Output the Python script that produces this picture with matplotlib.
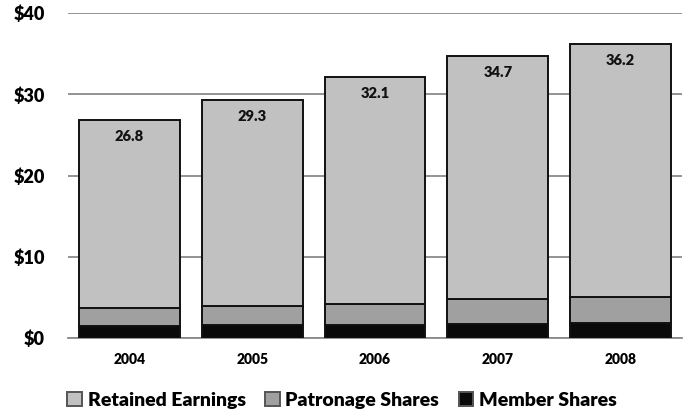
import numpy as np
import matplotlib.pyplot as plt

years = ['2004', '2005', '2006', '2007', '2008']
totals = [26.8, 29.3, 32.1, 34.7, 36.2]
member = [1.5, 1.6, 1.6, 1.7, 1.8]
patronage = [2.2, 2.3, 2.6, 3.1, 3.2]
retained = [t - m - p for t, m, p in zip(totals, member, patronage)]

plt.rcParams['font.family'] = ['Lato', 'DejaVu Sans']
plt.rcParams['font.weight'] = 'bold'

fig = plt.figure(figsize=(6.93, 4.15), dpi=100)
ax = fig.add_axes([68 / 693, 1 - 338 / 415, 614 / 693, 325 / 415])

x = np.arange(len(years))
w = 0.82
ax.bar(x, member, w, color='#0a0a0a', edgecolor='#111111', linewidth=1.4,
       label='Member Shares', zorder=3)
ax.bar(x, patronage, w, bottom=member, color='#a0a0a0', edgecolor='#111111',
       linewidth=1.4, label='Patronage Shares', zorder=3)
bottom2 = [m + p for m, p in zip(member, patronage)]
ax.bar(x, retained, w, bottom=bottom2, color='#c1c1c1', edgecolor='#111111',
       linewidth=1.4, label='Retained Earnings', zorder=3)

for xi, t in zip(x, totals):
    ax.text(xi, t - 1.2, f'{t:.1f}', ha='center', va='top', fontsize=10.5,
            fontweight='heavy', color='#111111', zorder=4)

ax.set_xlim(-0.5, 4.5)
ax.set_ylim(0, 40)
ax.set_yticks([0, 10, 20, 30, 40])
ax.set_yticklabels(['$0', '$10', '$20', '$30', '$40'], fontsize=13,
                   fontweight='heavy')
ax.set_xticks(x)
ax.set_xticklabels(years, fontsize=10, fontweight='heavy')
ax.tick_params(axis='y', length=0, pad=16.5)
ax.tick_params(axis='x', length=0, pad=11)
ax.yaxis.grid(True, color='#8a8a8a', linewidth=1.3, zorder=0)
for s in ['top', 'right', 'left']:
    ax.spines[s].set_visible(False)
ax.spines['bottom'].set_color('#8a8a8a')
ax.spines['bottom'].set_linewidth(1.3)

h, l = ax.get_legend_handles_labels()
leg = fig.legend(h[::-1], l[::-1], loc='center', bbox_to_anchor=(342 / 693, 1 - 400 / 415),
                 ncol=3, frameon=False, fontsize=14, handlelength=0.75,
                 handleheight=0.75, handletextpad=0.3, columnspacing=1.0)
for t in leg.get_texts():
    t.set_fontweight('heavy')
for p in leg.get_patches():
    p.set_edgecolor('#555555')

fig.savefig('out.png', dpi=100)
